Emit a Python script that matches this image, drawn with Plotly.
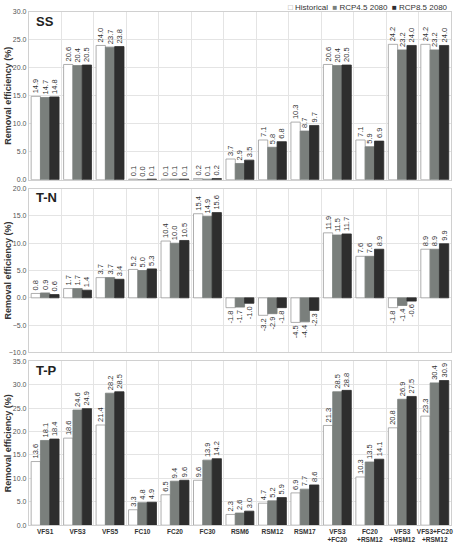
import plotly.graph_objects as go

categories = ["VFS1", "VFS3", "VFS5", "FC10", "FC20", "FC30", "RSM6", "RSM12", "RSM17",
              "VFS3<br>+FC20", "FC20<br>+RSM12", "VFS3<br>+RSM12", "VFS3+FC20<br>+RSM12"]
series_names = ["Historical", "RCP4.5 2080", "RCP8.5 2080"]

ss_hist = [14.9, 20.6, 24.0, 0.1, 0.1, 0.2, 3.7, 7.1, 10.3, 20.6, 7.1, 24.2, 24.2]
ss_rcp45 = [14.7, 20.4, 23.7, 0.0, 0.1, 0.1, 2.9, 5.8, 8.7, 20.4, 5.9, 23.2, 23.2]
ss_rcp85 = [14.8, 20.5, 23.8, 0.1, 0.1, 0.2, 3.5, 6.8, 9.7, 20.5, 6.9, 24.0, 24.0]

tn_hist = [0.8, 1.7, 3.7, 5.2, 10.4, 15.4, -1.8, -3.2, -4.5, 11.9, 7.6, -1.8, 8.9]
tn_rcp45 = [0.9, 1.7, 3.7, 5.0, 10.0, 14.9, -1.7, -2.9, -4.4, 11.5, 7.6, -1.4, 8.9]
tn_rcp85 = [0.6, 1.4, 3.4, 5.3, 10.5, 15.6, -1.0, -1.8, -2.3, 11.7, 8.9, -0.6, 9.9]

tp_hist = [13.6, 18.6, 21.4, 3.3, 6.5, 9.6, 2.3, 4.7, 6.9, 21.3, 10.3, 20.8, 23.3]
tp_rcp45 = [18.1, 24.6, 28.2, 4.8, 9.4, 13.9, 2.6, 5.2, 7.7, 28.5, 13.5, 26.9, 30.4]
tp_rcp85 = [18.4, 24.9, 28.5, 4.9, 9.6, 14.2, 3.0, 5.9, 8.6, 28.8, 14.1, 27.5, 30.9]

panels = [
    ("SS", [ss_hist, ss_rcp45, ss_rcp85], [0, 30]),
    ("T-N", [tn_hist, tn_rcp45, tn_rcp85], [-10, 20]),
    ("T-P", [tp_hist, tp_rcp45, tp_rcp85], [0, 35]),
]

W, H = 456, 544
FONT = "Liberation Sans, Arial, sans-serif"
fill_colors = ["#ffffff", "#7a7f7c", "#2e2e2e"]
line_colors = ["#9a9a9a", "#7a7f7c", "#2e2e2e"]

panel_px = [(8, 178), (187, 353), (362, 528)]
x_dom = [29 / W, 453 / W]

fig = go.Figure()
for i, (name, data, rng) in enumerate(panels):
    ax = "" if i == 0 else str(i + 1)
    for j, vals in enumerate(data):
        fig.add_trace(go.Bar(
            x=categories, y=vals, name=series_names[j],
            marker=dict(color=fill_colors[j], line=dict(color=line_colors[j], width=0.8)),
            text=[f"{v:.1f}" for v in vals],
            textposition="outside", textangle=-90, constraintext="none",
            textfont=dict(size=7.5, color="#333333", family=FONT),
            cliponaxis=False, showlegend=False,
            xaxis="x" + ax, yaxis="y" + ax,
        ))
    top, bot = panel_px[i]
    fig.layout["yaxis" + ax] = dict(
        domain=[1 - bot / H, 1 - top / H], range=rng, dtick=5, tickformat=".1f",
        showgrid=True, gridcolor="#e4e4e4", gridwidth=1, zeroline=False,
        showline=True, linecolor="#d0d0d0", linewidth=1, mirror=True,
        tickfont=dict(size=7, color="#555555", family=FONT), ticks="",
        anchor="x" + ax,
    )
    fig.layout["xaxis" + ax] = dict(
        domain=x_dom, anchor="y" + ax, type="category",
        tickson="boundaries", showgrid=True, gridcolor="#e4e4e4", gridwidth=1,
        showline=True, linecolor="#d0d0d0", linewidth=1, mirror=True, ticks="",
        showticklabels=(i == 2),
        tickfont=dict(size=6.5, color="#333333", family=FONT, weight="bold"),
        tickangle=0,
        categoryorder="array", categoryarray=categories,
    )
    if i > 0:
        fig.layout["xaxis" + ax]["matches"] = "x"
    fig.add_annotation(text="<b>%s</b>" % name, x=34 / W, y=1 - (top + 9.5) / H,
                       xref="paper", yref="paper", xanchor="left", yanchor="middle",
                       showarrow=False, font=dict(size=13, color="#222222", family=FONT))
    fig.add_annotation(text="<b>Removal efficiency (%)</b>", x=8 / W,
                       y=1 - ((top + bot) / 2) / H, xref="paper", yref="paper",
                       xanchor="center", yanchor="middle", textangle=-90, showarrow=False,
                       font=dict(size=9, color="#333333", family=FONT))

legend_txt = ("<span style='color:#9a9a9a'>□</span> Historical  "
              "<span style='color:#7a7f7c'>■</span> RCP4.5 2080  "
              "<span style='color:#2e2e2e'>■</span> RCP8.5 2080")
fig.add_annotation(text=legend_txt, x=452 / W, y=1 - 3.5 / H, xref="paper", yref="paper",
                   xanchor="right", yanchor="middle", showarrow=False,
                   font=dict(size=8, color="#333333", family=FONT))

fig.update_layout(
    width=W, height=H, margin=dict(l=0, r=0, t=0, b=0),
    paper_bgcolor="white", plot_bgcolor="white",
    barmode="group", bargap=0.14, bargroupgap=0,
    font=dict(family=FONT), showlegend=False,
)

fig.write_html("out.html")
